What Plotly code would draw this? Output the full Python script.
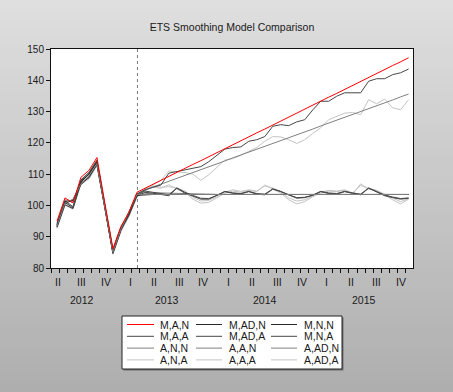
import plotly.graph_objects as go

# ---------------- data ----------------
# monthly index: 0 = Apr 2012 ... 44 = Dec 2015 ; history 0..10, forecast 11..44
hist_MAN = [95.0, 102.4, 100.8, 109.0, 111.2, 115.3, 100.6, 86.2, 93.3, 97.8, 104.2]
fc_MAN = [105.5, 106.7, 108.0, 109.3, 110.5, 111.8, 113.1, 114.3, 115.6, 116.9, 118.1, 119.4,
          120.6, 121.9, 123.2, 124.4, 125.7, 127.0, 128.2, 129.5, 130.8, 132.0, 133.3, 134.6,
          135.8, 137.1, 138.3, 139.6, 140.9, 142.1, 143.4, 144.7, 145.9, 147.2]

hist_MADN = [93.8, 101.2, 101.5, 107.5, 110.0, 113.8, 99.5, 85.2, 92.5, 97.5, 103.2]
fc_MADN = [103.4, 103.5, 103.5, 103.5, 103.5, 103.5, 103.5, 103.5, 103.5, 103.5, 103.5, 103.5,
           103.5, 103.5, 103.5, 103.5, 103.5, 103.5, 103.5, 103.5, 103.5, 103.5, 103.5, 103.5,
           103.5, 103.5, 103.5, 103.5, 103.5, 103.5, 103.5, 103.5, 103.5, 103.5]

hist_MNN = [93.2, 100.6, 101.8, 106.6, 109.2, 113.0, 99.0, 84.8, 92.2, 97.8, 103.5]
fc_MNN = [103.5, 103.5, 103.5, 103.5, 103.5, 103.5, 103.5, 103.5, 103.5, 103.5, 103.5, 103.5,
          103.5, 103.5, 103.5, 103.5, 103.5, 103.5, 103.5, 103.5, 103.5, 103.5, 103.5, 103.5,
          103.5, 103.5, 103.5, 103.5, 103.5, 103.5, 103.5, 103.5, 103.5, 103.5]

hist_MAA = [94.0, 101.5, 99.6, 108.2, 110.4, 114.4, 99.8, 85.6, 93.0, 97.2, 103.6]
fc_MAA = [105.0, 105.8, 106.5, 110.3, 110.8, 111.2, 111.8, 112.4, 114.0, 116.0, 118.0, 118.5,
          118.7, 120.5, 121.0, 122.0, 125.3, 125.8, 125.5, 126.7, 127.4, 130.5, 133.3, 133.3,
          134.9, 136.0, 136.0, 136.0, 139.7, 140.5, 140.5, 141.8, 142.4, 143.6]

hist_MADA = [93.5, 101.0, 99.2, 107.9, 109.9, 114.0, 99.6, 85.0, 92.6, 96.9, 103.3]
fc_MADA = [104.6, 104.2, 103.8, 103.4, 105.6, 104.2, 103.2, 102.3, 102.2, 103.2, 104.5, 104.0,
           103.8, 104.5, 103.8, 103.6, 105.3, 104.5, 103.4, 102.5, 102.6, 103.3, 104.5, 104.0,
           103.8, 104.5, 104.0, 103.6, 105.6, 104.5, 103.3, 102.7, 102.2, 102.4]

hist_MNA = [93.0, 100.2, 99.0, 107.2, 108.8, 113.2, 99.2, 84.6, 92.0, 96.8, 102.9]
fc_MNA = [104.2, 103.9, 103.4, 103.1, 105.5, 103.9, 103.0, 102.0, 102.0, 103.1, 104.4, 103.9,
          103.7, 104.4, 103.6, 103.4, 105.2, 104.4, 103.3, 102.3, 102.5, 103.2, 104.4, 103.8,
          103.6, 104.4, 103.9, 103.4, 105.5, 104.4, 103.1, 102.5, 102.0, 102.3]

hist_ANN = [93.4, 100.8, 102.0, 106.9, 109.5, 113.3, 99.2, 85.0, 92.4, 98.0, 103.5]
fc_ANN = [103.5, 103.5, 103.5, 103.5, 103.5, 103.5, 103.5, 103.5, 103.5, 103.5, 103.5, 103.5,
          103.5, 103.5, 103.5, 103.5, 103.5, 103.5, 103.5, 103.5, 103.5, 103.5, 103.5, 103.5,
          103.5, 103.5, 103.5, 103.5, 103.5, 103.5, 103.5, 103.5, 103.5, 103.5]

hist_AAN = [94.4, 101.8, 101.0, 108.2, 110.6, 114.6, 100.0, 85.8, 92.9, 97.6, 103.8]
fc_AAN = [104.9, 105.9, 106.8, 107.7, 108.6, 109.6, 110.5, 111.4, 112.4, 113.3, 114.2, 115.2,
          116.1, 117.0, 117.9, 118.9, 119.8, 120.7, 121.7, 122.6, 123.5, 124.4, 125.4, 126.3,
          127.2, 128.2, 129.1, 130.0, 131.0, 131.9, 132.8, 133.7, 134.7, 135.6]

hist_AADN = [93.9, 101.3, 101.6, 107.6, 110.1, 114.0, 99.7, 85.4, 92.6, 97.6, 103.4]
fc_AADN = [103.8, 104.0, 104.0, 103.9, 103.8, 103.7, 103.6, 103.6, 103.5, 103.5, 103.5, 103.5,
           103.5, 103.5, 103.5, 103.5, 103.5, 103.5, 103.5, 103.5, 103.5, 103.5, 103.5, 103.5,
           103.5, 103.5, 103.5, 103.5, 103.5, 103.5, 103.5, 103.5, 103.5, 103.5]

hist_ANA = [92.6, 100.0, 98.8, 106.8, 108.4, 112.6, 98.8, 84.4, 91.6, 96.4, 102.6]
fc_ANA = [104.8, 105.8, 105.5, 106.6, 105.2, 104.2, 102.0, 100.7, 101.0, 102.4, 103.9, 104.6,
          104.2, 104.8, 104.4, 106.5, 105.2, 104.0, 101.8, 100.5, 101.2, 102.8, 104.0, 104.6,
          104.4, 104.8, 103.6, 106.9, 105.2, 104.8, 103.4, 101.8, 100.5, 102.0]

hist_AAA = [93.6, 101.0, 99.4, 107.4, 109.4, 113.0, 99.3, 85.2, 92.2, 96.8, 103.4]
fc_AAA = [105.5, 106.5, 108.0, 111.0, 110.8, 110.5, 110.0, 108.0, 109.8, 112.0, 114.5, 115.0,
          116.0, 117.3, 118.5, 120.5, 122.0, 121.9, 121.0, 119.8, 121.0, 123.0, 124.8, 127.4,
          128.5, 129.5, 129.7, 129.0, 133.8, 132.5, 134.0, 131.2, 130.6, 133.8]

hist_AADA = [93.2, 100.6, 99.0, 107.0, 108.9, 112.8, 99.0, 84.8, 91.9, 96.6, 103.0]
fc_AADA = [105.2, 106.2, 105.8, 106.0, 105.6, 104.6, 102.6, 101.4, 101.6, 102.8, 104.2, 105.0,
           104.5, 105.0, 104.6, 106.2, 105.6, 104.4, 102.4, 101.4, 101.8, 103.0, 104.3, 104.8,
           104.6, 105.0, 104.0, 106.4, 105.4, 104.8, 103.6, 102.2, 101.2, 102.2]

# draw order (back to front): name, history, forecast, colour
series = [
    ("A,N,A", hist_ANA, fc_ANA, "#C4C4C4"),
    ("A,AD,A", hist_AADA, fc_AADA, "#C4C4C4"),
    ("A,A,A", hist_AAA, fc_AAA, "#C4C4C4"),
    ("A,AD,N", hist_AADN, fc_AADN, "#808080"),
    ("A,A,N", hist_AAN, fc_AAN, "#808080"),
    ("M,N,A", hist_MNA, fc_MNA, "#474747"),
    ("M,AD,A", hist_MADA, fc_MADA, "#474747"),
    ("M,A,A", hist_MAA, fc_MAA, "#474747"),
    ("M,N,N", hist_MNN, fc_MNN, "#2A2A2A"),
    ("M,AD,N", hist_MADN, fc_MADN, "#2A2A2A"),
    ("A,N,N", hist_ANN, fc_ANN, "#808080"),
    ("M,A,N", hist_MAN, fc_MAN, "#FF0000"),
]
color_of = {s[0]: s[3] for s in series}

legend_rows = [["M,A,N", "M,AD,N", "M,N,N"],
               ["M,A,A", "M,AD,A", "M,N,A"],
               ["A,N,N", "A,A,N", "A,AD,N"],
               ["A,N,A", "A,A,A", "A,AD,A"]]

quarter_labels = ["II", "III", "IV", "I", "II", "III", "IV", "I", "II", "III", "IV", "I", "II", "III", "IV"]
year_labels = ["2012", "2013", "2014", "2015"]
forecast_start = 10  # last historical observation index

# ---------------- layout geometry (pixels) ----------------
W, H = 453, 392
L, R, T, B = 51, 413, 49, 268
XMIN, XMAX = -0.75, 44.55


def px_x(p):
    return (p - L) / (R - L)


def px_y(p):
    return (B - p) / (B - T)


FONT = "Liberation Sans, Arial, sans-serif"
TXT = "#1A1A1A"

fig = go.Figure()
for name, h, f, col in series:
    ys = h + f
    fig.add_trace(go.Scatter(x=list(range(len(ys))), y=ys, mode="lines", name=name,
                             line=dict(color=col, width=1), showlegend=False,
                             hoverinfo="skip"))

shapes = []
# background gradient
n = 56
for k in range(n):
    y0p = H * k / n
    y1p = H * (k + 1) / n + 0.5
    c = int(round(223 - (223 - 174) * (k + 0.5) / n))
    shapes.append(dict(type="rect", xref="paper", yref="paper", layer="below",
                       x0=px_x(-5), x1=px_x(W + 5), y0=px_y(y1p), y1=px_y(y0p),
                       fillcolor=f"rgb({c},{c},{c})", line=dict(width=0)))
# plot area
shapes.append(dict(type="rect", xref="paper", yref="paper", layer="below",
                   x0=0, x1=1, y0=0, y1=1, fillcolor="white", line=dict(width=0)))
# forecast start divider
shapes.append(dict(type="line", xref="x", yref="paper", layer="below",
                   x0=forecast_start + 0.07, x1=forecast_start + 0.07, y0=0, y1=1,
                   line=dict(color="#7A7A7A", width=1, dash="dot")))

annotations = []
# quarter and year labels
q_px = [57.7, 81, 106, 130, 154, 179, 203, 228, 252, 277, 301.5, 326.5, 351, 376.5, 401]
for lab, p in zip(quarter_labels, q_px):
    annotations.append(dict(text=lab, x=px_x(p), y=px_y(282), xref="paper", yref="paper",
                            showarrow=False, xanchor="center", yanchor="middle",
                            font=dict(family=FONT, size=10.5, color=TXT)))
y_px = [82, 166.5, 265, 364]
for lab, p in zip(year_labels, y_px):
    annotations.append(dict(text=lab, x=px_x(p), y=px_y(300), xref="paper", yref="paper",
                            showarrow=False, xanchor="center", yanchor="middle",
                            font=dict(family=FONT, size=10.5, color=TXT)))

# legend box (manual)
lx0, lx1, ly0, ly1 = 122, 342, 316, 369
shapes.append(dict(type="rect", xref="paper", yref="paper",
                   x0=px_x(lx0 + 1.5), x1=px_x(lx1 + 1.5), y0=px_y(ly1 + 1.5), y1=px_y(ly0 + 1.5),
                   fillcolor="#6E6E6E", line=dict(width=0)))
shapes.append(dict(type="rect", xref="paper", yref="paper",
                   x0=px_x(lx0), x1=px_x(lx1), y0=px_y(ly1), y1=px_y(ly0),
                   fillcolor="white", line=dict(color="#222222", width=1)))
col_line = [(127, 154), (196, 222), (271, 297)]
col_text = [158, 226.5, 301.5]
row_y = [324.5, 336.3, 348.1, 359.9]
for r, row in enumerate(legend_rows):
    for c, name in enumerate(row):
        yy = px_y(row_y[r])
        shapes.append(dict(type="line", xref="paper", yref="paper",
                           x0=px_x(col_line[c][0]), x1=px_x(col_line[c][1]), y0=yy, y1=yy,
                           line=dict(color=color_of[name], width=1)))
        annotations.append(dict(text=name, x=px_x(col_text[c]), y=yy, xref="paper", yref="paper",
                                showarrow=False, xanchor="left", yanchor="middle",
                                font=dict(family=FONT, size=10.5, color=TXT)))

fig.update_layout(
    width=W, height=H,
    margin=dict(l=L, r=W - R, t=T, b=H - B, pad=0),
    paper_bgcolor="#C8C8C8", plot_bgcolor="white",
    title=dict(text="ETS Smoothing Model Comparison", x=0.5, xref="paper",
               y=1 - 27 / H, yref="container", xanchor="center", yanchor="middle",
               font=dict(family=FONT, size=10.5, color=TXT)),
    shapes=shapes, annotations=annotations, showlegend=False,
    xaxis=dict(range=[XMIN, XMAX], showgrid=False, zeroline=False, showline=True,
               linecolor="#111111", linewidth=1, mirror=True,
               ticks="outside", ticklen=4, tickcolor="#111111", tickwidth=1,
               tickmode="linear", tick0=XMIN + 0.04, dtick=(XMAX - XMIN) / 45,
               showticklabels=False),
    yaxis=dict(range=[80, 150], showgrid=False, zeroline=False, showline=True,
               linecolor="#111111", linewidth=1, mirror=True,
               ticks="outside", ticklen=4, tickcolor="#111111", tickwidth=1,
               tickmode="linear", tick0=80, dtick=10,
               tickfont=dict(family=FONT, size=10, color=TXT)),
)

fig.write_html("out.html", config={"displayModeBar": False, "staticPlot": True},
               post_script="document.body.style.margin='0';")
